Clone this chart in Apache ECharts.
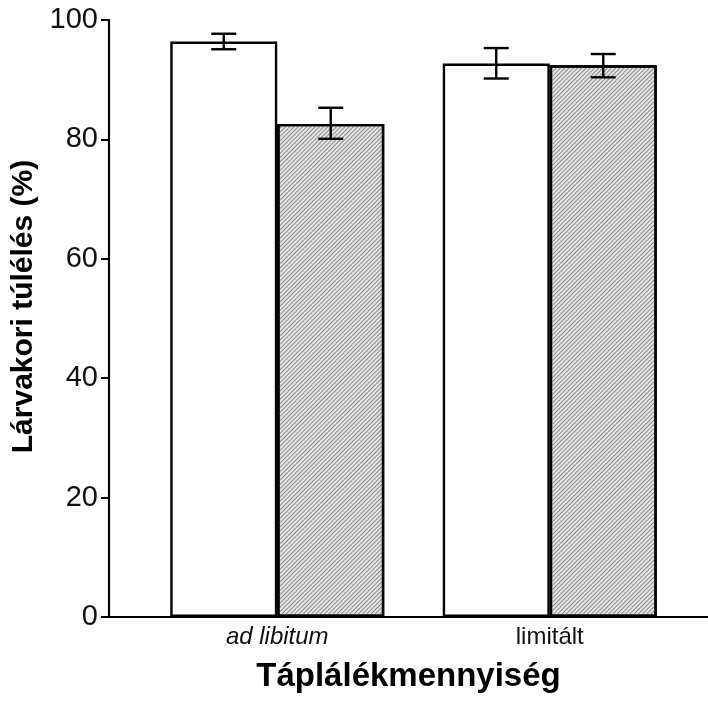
<!DOCTYPE html>
<html>
<head>
<meta charset="utf-8">
<script src="https://cdn.jsdelivr.net/npm/echarts@6/dist/echarts.min.js"></script>
<style>
  html, body { margin: 0; padding: 0; background: #fff; }
  #chart { width: 708px; height: 707px; }
</style>
</head>
<body>
<div id="chart"></div>
<script>
var categories = ['ad libitum', 'limitált'];
var yTicks = [0, 20, 40, 60, 80, 100];
// fehér oszlopok
var seriesA = [96.4, 92.7];
// sraffozott oszlopok
var seriesB = [82.6, 92.4];
// hibasávok [alsó, felső]
var errA = [[95.1, 97.7], [90.2, 95.3]];
var errB = [[80.1, 85.3], [90.4, 94.3]];

(function () {
  var myChart = echarts.init(document.getElementById('chart'));
  var barW = 107;
  var font = 'Liberation Sans, Arial, sans-serif';

  function errData(err) {
    return err.map(function (e, i) { return [i, e[0], e[1]]; });
  }

  // hibasáv rajzolása, eltolva az oszlop közepére
  function errRender(side) {
    return function (params, api) {
      var lo = api.coord([api.value(0), api.value(1)]);
      var hi = api.coord([api.value(0), api.value(2)]);
      var x = lo[0] + side * barW / 2;
      var cap = 12.5;
      var style = { stroke: '#000', lineWidth: 2.4 };
      return {
        type: 'group',
        children: [
          { type: 'line', shape: { x1: x, y1: lo[1], x2: x, y2: hi[1] }, style: style },
          { type: 'line', shape: { x1: x - cap, y1: lo[1], x2: x + cap, y2: lo[1] }, style: style },
          { type: 'line', shape: { x1: x - cap, y1: hi[1], x2: x + cap, y2: hi[1] }, style: style }
        ]
      };
    };
  }

  var option = {
    backgroundColor: '#fff',
    animation: false,
    grid: [
      // tengelyvonalak
      { left: 109, right: 0, top: 20, bottom: 90 },
      // oszlopok
      { left: 141, right: 22, top: 20, bottom: 90 }
    ],
    xAxis: [
      {
        gridIndex: 0,
        type: 'category',
        data: categories,
        axisLine: { lineStyle: { color: '#000', width: 2.2 } },
        axisTick: { show: false },
        axisLabel: { show: false },
        name: 'Táplálékmennyiség',
        nameLocation: 'middle',
        nameGap: 43,
        nameTextStyle: { fontFamily: font, fontSize: 33, fontWeight: 'bold', color: '#000' }
      },
      {
        gridIndex: 1,
        type: 'category',
        data: categories,
        axisLine: { show: false },
        axisTick: { show: false },
        axisLabel: {
          margin: 8,
          fontFamily: font,
          fontSize: 24,
          color: '#111',
          formatter: function (v) { return v === 'ad libitum' ? '{i|' + v + '}' : v; },
          rich: { i: { fontStyle: 'italic', fontFamily: font, fontSize: 24, color: '#111' } }
        }
      }
    ],
    yAxis: [
      {
        gridIndex: 0,
        type: 'value',
        min: yTicks[0],
        max: yTicks[yTicks.length - 1],
        interval: 20,
        axisLine: { show: true, lineStyle: { color: '#000', width: 2.2 } },
        axisTick: { show: true, length: 8, lineStyle: { color: '#000', width: 2 } },
        axisLabel: { margin: 11, fontFamily: font, fontSize: 29, color: '#111', padding: [6, 0, 0, 0] },
        splitLine: { show: false },
        name: 'Lárvakori túlélés (%)',
        nameLocation: 'middle',
        nameGap: 64,
        nameTextStyle: { fontFamily: font, fontSize: 30, fontWeight: 'bold', color: '#000', padding: [0, 0, 0, 24] }
      },
      {
        gridIndex: 1,
        type: 'value',
        min: yTicks[0],
        max: yTicks[yTicks.length - 1],
        show: false,
        splitLine: { show: false }
      }
    ],
    series: [
      {
        type: 'bar',
        xAxisIndex: 1,
        yAxisIndex: 1,
        barWidth: barW,
        barGap: 0,
        data: seriesA,
        itemStyle: { color: '#fff', borderColor: '#000', borderWidth: 2.4 }
      },
      {
        type: 'bar',
        xAxisIndex: 1,
        yAxisIndex: 1,
        barWidth: barW,
        barGap: 0,
        data: seriesB,
        itemStyle: {
          color: '#e4e4e4',
          borderColor: '#000',
          borderWidth: 2.4,
          decal: {
            symbol: 'rect',
            symbolSize: 1,
            color: '#8c8c8c',
            dashArrayX: [1, 0],
            dashArrayY: [1, 2],
            rotation: -Math.PI / 4
          }
        }
      },
      {
        type: 'custom',
        xAxisIndex: 1,
        yAxisIndex: 1,
        renderItem: errRender(-1),
        encode: { x: 0, y: [1, 2] },
        data: errData(errA),
        z: 10
      },
      {
        type: 'custom',
        xAxisIndex: 1,
        yAxisIndex: 1,
        renderItem: errRender(1),
        encode: { x: 0, y: [1, 2] },
        data: errData(errB),
        z: 10
      }
    ]
  };

  myChart.setOption(option);
  window.addEventListener('resize', function () {
    myChart.resize();
  });
})();
</script>
</body>
</html>
